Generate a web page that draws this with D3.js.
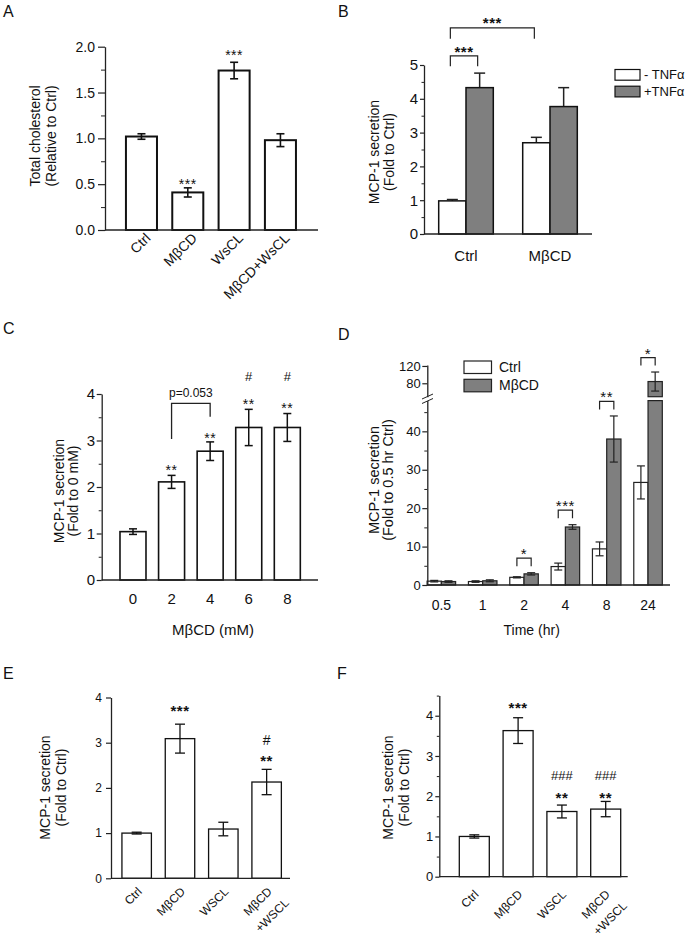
<!DOCTYPE html>
<html><head><meta charset="utf-8">
<script src="https://cdn.jsdelivr.net/npm/d3@7"></script>
<style>
html,body{margin:0;padding:0;background:#fff;}
svg{display:block;}
</style></head>
<body>
<script>
// ---------------- DATA ----------------
// Panel A
const aCats = ["Ctrl","MβCD","WsCL","MβCD+WsCL"];
const aVals = [1.02, 0.41, 1.74, 0.98];
const aErrs = [0.03, 0.05, 0.09, 0.07];
const aTicks = [0, 0.5, 1.0, 1.5, 2.0];
// Panel B
const bGroups = ["Ctrl","MβCD"];
const bSeries = ["- TNFα","+TNFα"];
const bMinus = [0.98, 2.70];
const bMinusErr = [0.04, 0.16];
const bPlus = [4.33, 3.77];
const bPlusErr = [0.43, 0.56];
const bTicks = [0,1,2,3,4,5];
// Panel C
const cCats = ["0","2","4","6","8"];
const cVals = [1.04, 2.11, 2.77, 3.28, 3.28];
const cErrs = [0.06, 0.14, 0.20, 0.39, 0.30];
const cTicks = [0,1,2,3,4];
// Panel D
const dTimes = ["0.5","1","2","4","8","24"];
const dSeries = ["Ctrl","MβCD"];
const dCtrl = [1.0, 0.9, 2.0, 4.8, 9.4, 26.7];
const dCtrlErr = [0.2, 0.2, 0.15, 0.9, 1.8, 4.3];
const dMbcd = [0.9, 1.1, 2.9, 15.1, 38.0, 84.0];
const dMbcdErr = [0.2, 0.25, 0.3, 0.6, 6.0, 22.0];
const dTicksLow = [0,10,20,30,40];
const dTicksHigh = [80,120];
const dSig = [{t:"2",s:"*"},{t:"4",s:"***"},{t:"8",s:"**"},{t:"24",s:"*"}];
// Panel E
const eCats = ["Ctrl","MβCD","WSCL","MβCD\n+WSCL"];
const eVals = [1.00, 3.09, 1.09, 2.13];
const eErrs = [0.02, 0.32, 0.15, 0.28];
const eTicks = [0,1,2,3,4];
// Panel F
const fCats = ["Ctrl","MβCD","WSCL","MβCD\n+WSCL"];
const fVals = [1.00, 3.63, 1.62, 1.68];
const fErrs = [0.04, 0.32, 0.16, 0.19];
const fTicks = [0,1,2,3,4];

// ---------------- SETUP ----------------
const FONT = "Arial, 'Liberation Sans', Helvetica, sans-serif";
const W = 689, H = 940;
const GRAY = "#7f7f7f";
const INT = d3.format("d");
const svg = d3.select("body").append("svg").attr("width", W).attr("height", H)
  .style("font-family", FONT);
svg.append("rect").attr("width", W).attr("height", H).attr("fill", "#fff");

function panelLetter(t, x, y){
  svg.append("text").attr("x", x).attr("y", y).attr("font-size", 16).attr("fill","#111").text(t);
}
function yTitle(lines, xs, yc, fs){
  lines.forEach((l,i)=>{
    svg.append("text").attr("transform",`translate(${xs[i]},${yc}) rotate(-90)`)
      .attr("text-anchor","middle").attr("font-size", fs).attr("fill","#111").text(l);
  });
}
function yAxis(scale, x, ticks, opt){
  const g = svg.append("g").attr("transform",`translate(${x},0)`);
  if (opt.minor){
    g.append("g").call(d3.axisLeft(scale).tickValues(opt.minor).tickFormat("").tickSize(opt.minorSize).tickSizeOuter(0))
      .call(s=>s.select(".domain").remove())
      .call(s=>s.selectAll("line").attr("stroke","#222").attr("stroke-width",1));
  }
  const ax = d3.axisLeft(scale).tickValues(ticks).tickSize(opt.tickSize).tickPadding(opt.pad).tickSizeOuter(0);
  if (opt.fmt) ax.tickFormat(opt.fmt);
  g.append("g").call(ax)
    .call(s=>s.select(".domain").attr("stroke","#222").attr("stroke-width",1.3))
    .call(s=>s.selectAll(".tick line").attr("stroke","#222").attr("stroke-width",1.2))
    .call(s=>s.selectAll("text").attr("font-size",opt.font).attr("fill","#111").attr("font-family",FONT));
  return g;
}
function xLine(x1, x2, y){
  svg.append("line").attr("x1",x1).attr("x2",x2).attr("y1",y).attr("y2",y)
    .attr("stroke","#222").attr("stroke-width",1.3);
}
function errBar(g, cx, y1, y2, cap, sw, col){
  g.append("line").attr("x1",cx).attr("x2",cx).attr("y1",y1).attr("y2",y2).attr("stroke",col).attr("stroke-width",sw);
  g.append("line").attr("x1",cx-cap/2).attr("x2",cx+cap/2).attr("y1",y2).attr("y2",y2).attr("stroke",col).attr("stroke-width",sw);
}
function twoSidedErr(g, cx, yLo, yHi, cap, sw, col){
  g.append("line").attr("x1",cx).attr("x2",cx).attr("y1",yLo).attr("y2",yHi).attr("stroke",col).attr("stroke-width",sw);
  [yLo,yHi].forEach(yy=>g.append("line").attr("x1",cx-cap/2).attr("x2",cx+cap/2).attr("y1",yy).attr("y2",yy).attr("stroke",col).attr("stroke-width",sw));
}
// annotation text centred visually at yc
function note(x, yc, t, fs, bold, kind){
  const k = kind==="star" ? 0.62 : 0.36;
  svg.append("text").attr("x",x).attr("y",yc + k*fs).attr("text-anchor","middle")
    .attr("font-size",fs).attr("font-weight",bold?"bold":"normal").attr("fill","#111")
    .attr("letter-spacing", kind==="star"?"0.5px":"0").text(t);
}

// generic single-series bar panel
function simplePanel(o){
  const y = d3.scaleLinear().domain(o.yDomain).range(o.yRange);
  const x = d3.scaleBand().domain(o.cats).range(o.band).paddingInner(o.padInner).paddingOuter(o.padInner/2);
  const g = svg.append("g");
  g.selectAll("rect.bar").data(o.cats).join("rect")
    .attr("x", d=>x(d)).attr("width", x.bandwidth())
    .attr("y", (d,i)=>y(o.vals[i])).attr("height",(d,i)=>y(0)-y(o.vals[i]))
    .attr("fill","#fff").attr("stroke","#111").attr("stroke-width",o.barStroke);
  o.cats.forEach((c,i)=>{
    const cx = x(c) + x.bandwidth()/2;
    twoSidedErr(g, cx, y(o.vals[i]-o.errs[i]), y(o.vals[i]+o.errs[i]), o.cap, o.errW, "#111");
  });
  yAxis(y, o.axisX, o.ticks, {minor:o.minor, minorSize:o.minorSize, tickSize:o.tickSize, pad:o.pad, font:o.tickFont, fmt:o.fmt});
  xLine(o.axisX, o.axisX2, y(0));
  o.cats.forEach(c=>{
    const cx = x(c) + x.bandwidth()/2;
    if (o.rotate){
      const t = svg.append("text").attr("transform",`translate(${cx+o.lblDx},${y(0)+o.lblDy}) rotate(-45)`)
        .attr("text-anchor","end").attr("font-size",o.lblFont).attr("fill","#111");
      c.split("\n").forEach((l,j)=>{
        t.append("tspan").attr("x", j? o.line2dx:0).attr("dy", j? o.line2dy:0).text(l);
      });
    } else {
      svg.append("text").attr("x",cx).attr("y",y(0)+o.lblDy).attr("text-anchor","middle")
        .attr("font-size",o.lblFont).attr("fill","#111").text(c);
    }
  });
  return {x, y, cx: c=>x(c)+x.bandwidth()/2};
}

// ---------------- PANEL A ----------------
panelLetter("A", 3, 17);
const A = simplePanel({cats:aCats, vals:aVals, errs:aErrs, yDomain:[0,2], yRange:[230,46.7],
  band:[118.3,303.6], padInner:0.33, axisX:105, axisX2:318, ticks:aTicks, minor:d3.range(0.25,2,0.5),
  minorSize:4, tickSize:7, pad:3, tickFont:14, fmt:d3.format(".1f"), barStroke:2, cap:8, errW:1.6,
  rotate:true, lblDx:10, lblDy:9, lblFont:14});
note(A.cx("MβCD"), A.y(0.545), "***", 14, false, "star");
note(A.cx("WsCL"), A.y(1.945), "***", 14, false, "star");
yTitle(["Total cholesterol","(Relative to Ctrl)"], [40,56], 136, 14);

// ---------------- PANEL B ----------------
panelLetter("B", 338, 17);
{
  const y = d3.scaleLinear().domain([0,5]).range([234,65]);
  const xg = d3.scaleBand().domain(bGroups).range([424,592]).paddingInner(0.35).paddingOuter(0.175);
  const xs = d3.scaleBand().domain(bSeries).range([0, xg.bandwidth()]);
  const g = svg.append("g");
  const series = [{name:bSeries[0], vals:bMinus, errs:bMinusErr, fill:"#fff"},
                  {name:bSeries[1], vals:bPlus, errs:bPlusErr, fill:GRAY}];
  series.forEach(s=>{
    bGroups.forEach((grp,i)=>{
      const bx = xg(grp)+xs(s.name), cx = bx + xs.bandwidth()/2;
      errBar(g, cx, y(s.vals[i]), y(s.vals[i]+s.errs[i]), 11, 1.5, "#222");
      g.append("rect").attr("x",bx).attr("width",xs.bandwidth()).attr("y",y(s.vals[i]))
        .attr("height",y(0)-y(s.vals[i])).attr("fill",s.fill).attr("stroke","#111").attr("stroke-width",1.5);
    });
  });
  yAxis(y, 424, bTicks, {minor:d3.range(0.5,5,1), minorSize:2.5, tickSize:4, pad:2, font:15, fmt:INT});
  xLine(424, 592, y(0));
  bGroups.forEach(grp=>{
    svg.append("text").attr("x", xg(grp)+xg.bandwidth()/2).attr("y", 261).attr("text-anchor","middle")
      .attr("font-size",15).attr("fill","#111").text(grp);
  });
  const cxOf = (grp, s)=> xg(grp)+xs(s)+xs.bandwidth()/2;
  function bracket(x1, x2, yTop, leg){
    svg.append("path").attr("d",`M${x1},${yTop+leg}V${yTop}H${x2}V${yTop+leg}`)
      .attr("fill","none").attr("stroke","#222").attr("stroke-width",1.2);
  }
  const x1 = cxOf("Ctrl",bSeries[0])-2, x2 = cxOf("Ctrl",bSeries[1])-2, x3 = cxOf("MβCD",bSeries[0])-2;
  bracket(x1, x3, y(6.1), 11);
  note((x1+x3)/2, y(6.37), "***", 15, true, "star");
  bracket(x1, x2, y(5.27), 10.5);
  note((x1+x2)/2, y(5.52), "***", 15, true, "star");
  series.forEach((s,i)=>{
    const ly = 69.5 + i*16.7;
    svg.append("rect").attr("x",615).attr("y",ly).attr("width",25).attr("height",10.7)
      .attr("fill",s.fill).attr("stroke","#111").attr("stroke-width",1.2);
    svg.append("text").attr("x",644).attr("y",ly+9.5).attr("font-size",13).attr("fill","#111").text(s.name);
  });
  yTitle(["MCP-1 secretion","(Fold to Ctrl)"], [378.5,394], 152, 14);
}

// ---------------- PANEL C ----------------
panelLetter("C", 3, 334);
const C = simplePanel({cats:cCats, vals:cVals, errs:cErrs, yDomain:[0,4], yRange:[580,394],
  band:[113.7,306.6], padInner:0.326, axisX:101.7, axisX2:318, ticks:cTicks, minor:d3.range(0.5,4,1),
  minorSize:3, tickSize:5, pad:1.5, tickFont:15, fmt:INT, barStroke:1.6, cap:8, errW:1.5,
  rotate:false, lblDy:23.5, lblFont:15});
[["2",2.44],["4",3.13],["6",3.87],["8",3.78]].forEach(([c,v])=>note(C.cx(c), C.y(v), "**", 14, false, "star"));
["6","8"].forEach(c=>note(C.cx(c), C.y(4.37), "#", 13, false, "hash"));
{
  const xa = C.cx("2"), xb = C.cx("4");
  svg.append("path").attr("d",`M${xa},${C.y(3.03)}V${C.y(3.80)}H${xb}V${C.y(3.51)}`)
    .attr("fill","none").attr("stroke","#222").attr("stroke-width",1.3);
  note((xa+xb)/2, C.y(4.02), "p=0.053", 12, false, "text");
}
svg.append("text").attr("x",213).attr("y",635).attr("text-anchor","middle").attr("font-size",15).attr("fill","#111").text("MβCD (mM)");
yTitle(["MCP-1 secretion","(Fold to 0 mM)"], [63.5,78], 491, 14);

// ---------------- PANEL D ----------------
panelLetter("D", 338, 340);
{
  const yL = d3.scaleLinear().domain([0,48]).range([585,400.6]);
  const yH = d3.scaleLinear().domain([49,122]).range([396.7,365.1]);
  const BREAK_LO = 48, BREAK_HI = 49;
  const xg = d3.scaleBand().domain(dTimes).range([427.1,662.3]).paddingInner(0.31).paddingOuter(0);
  const xs = d3.scaleBand().domain(dSeries).range([0,xg.bandwidth()]);
  const g = svg.append("g");
  const series = [{name:dSeries[0], vals:dCtrl, errs:dCtrlErr, fill:"#fff"},
                  {name:dSeries[1], vals:dMbcd, errs:dMbcdErr, fill:GRAY}];
  series.forEach(s=>{
    dTimes.forEach((t,i)=>{
      const bx = xg(t)+xs(s.name), bw = xs.bandwidth(), cx = bx+bw/2;
      const v = s.vals[i], e = s.errs[i];
      if (v <= BREAK_LO){
        g.append("rect").attr("x",bx).attr("width",bw).attr("y",yL(v)).attr("height",yL(0)-yL(v))
          .attr("fill",s.fill).attr("stroke","#222").attr("stroke-width",1.2);
        twoSidedErr(g, cx, yL(v-e), yL(v+e), 8, 1.2, "#222");
      } else {
        g.append("rect").attr("x",bx).attr("width",bw).attr("y",yL(BREAK_LO)).attr("height",yL(0)-yL(BREAK_LO))
          .attr("fill",s.fill).attr("stroke","#222").attr("stroke-width",1.2);
        g.append("rect").attr("x",bx).attr("width",bw).attr("y",yH(v)).attr("height",yH(BREAK_HI)-yH(v))
          .attr("fill",s.fill).attr("stroke","#222").attr("stroke-width",1.2);
        twoSidedErr(g, cx, yH(Math.max(BREAK_HI,v-e)), yH(v+e), 8, 1.2, "#222");
      }
    });
  });
  yAxis(yL, 427.3, dTicksLow, {minor:d3.range(5,50,10), minorSize:3, tickSize:5, pad:1.5, font:13, fmt:INT});
  yAxis(yH, 427.3, dTicksHigh, {tickSize:5, pad:1.5, font:13, fmt:INT});
  [396.5, 401].forEach(yy=>{
    svg.append("line").attr("x1",422).attr("x2",433).attr("y1",yy+2.5).attr("y2",yy-2.5)
      .attr("stroke","#222").attr("stroke-width",1);
  });
  xLine(427.3, 670, yL(0));
  dTimes.forEach(t=>{
    svg.append("text").attr("x", xg(t)+xg.bandwidth()/2).attr("y",610).attr("text-anchor","middle")
      .attr("font-size",14).attr("fill","#111").text(t);
  });
  svg.append("text").attr("x",531.7).attr("y",635).attr("text-anchor","middle").attr("font-size",14).attr("fill","#111").text("Time (hr)");
  dSig.forEach(d=>{
    const i = dTimes.indexOf(d.t);
    const x1 = xg(d.t)+xs(dSeries[0])+xs.bandwidth()/2, x2 = xg(d.t)+xs(dSeries[1])+xs.bandwidth()/2;
    const tops = series.map(s=>{ const v=s.vals[i]+s.errs[i]; return s.vals[i]>BREAK_LO ? yH(v) : yL(v); });
    const bottom = Math.min(...tops) - 6.5;
    const top = bottom - 8;
    svg.append("path").attr("d",`M${x1},${bottom}V${top}H${x2}V${bottom}`)
      .attr("fill","none").attr("stroke","#222").attr("stroke-width",1.2);
    note((x1+x2)/2, top-8.3, d.s, 15, false, "star");
  });
  series.forEach((s,i)=>{
    const ly = 361 + i*18.3;
    svg.append("rect").attr("x",464).attr("y",ly).attr("width",27.5).attr("height",12.5)
      .attr("fill",s.fill).attr("stroke","#222").attr("stroke-width",1.2);
    svg.append("text").attr("x",499).attr("y",ly+11).attr("font-size",14).attr("fill","#111").text(s.name);
  });
  yTitle(["MCP-1 secretion","(Fold to 0.5 hr Ctrl)"], [378.5,393], 480, 14.5);
}

// ---------------- PANEL E ----------------
panelLetter("E", 3, 679);
const E = simplePanel({cats:eCats, vals:eVals, errs:eErrs, yDomain:[0,4], yRange:[878.3,697.5],
  band:[115,288.3], padInner:0.32, axisX:111, axisX2:290, ticks:eTicks, minor:null,
  tickSize:5, pad:4, tickFont:12, fmt:INT, barStroke:1.3, cap:10, errW:1.3,
  rotate:true, lblDx:6, lblDy:14, lblFont:12, line2dx:4, line2dy:20});
note(E.cx("MβCD"), E.y(3.79), "***", 15, true, "star");
note(E.cx("MβCD\n+WSCL"), E.y(2.69), "**", 15, true, "star");
note(E.cx("MβCD\n+WSCL"), E.y(3.07), "#", 14, false, "hash");
yTitle(["MCP-1 secretion","(Fold to Ctrl)"], [50,65.5], 787.5, 14);

// ---------------- PANEL F ----------------
panelLetter("F", 337, 679);
const F = simplePanel({cats:fCats, vals:fVals, errs:fErrs, yDomain:[0,4.5], yRange:[876.7,695.6],
  band:[452.4,627.6], padInner:0.315, axisX:439.3, axisX2:627.7, ticks:fTicks, minor:d3.range(0.5,4.6,1),
  minorSize:2.5, tickSize:4, pad:2, tickFont:13, fmt:INT, barStroke:1.3, cap:10, errW:1.3,
  rotate:true, lblDx:5, lblDy:18.5, lblFont:12, line2dx:4, line2dy:20});
note(F.cx("MβCD"), F.y(4.31), "***", 15, true, "star");
["WSCL","MβCD\n+WSCL"].forEach(c=>{
  note(F.cx(c), F.y(2.07), "**", 15, true, "star");
  note(F.cx(c), F.y(2.53), "###", 13, false, "hash");
});
yTitle(["MCP-1 secretion","(Fold to Ctrl)"], [393.3,408.7], 787.5, 14);
</script>
</body></html>
